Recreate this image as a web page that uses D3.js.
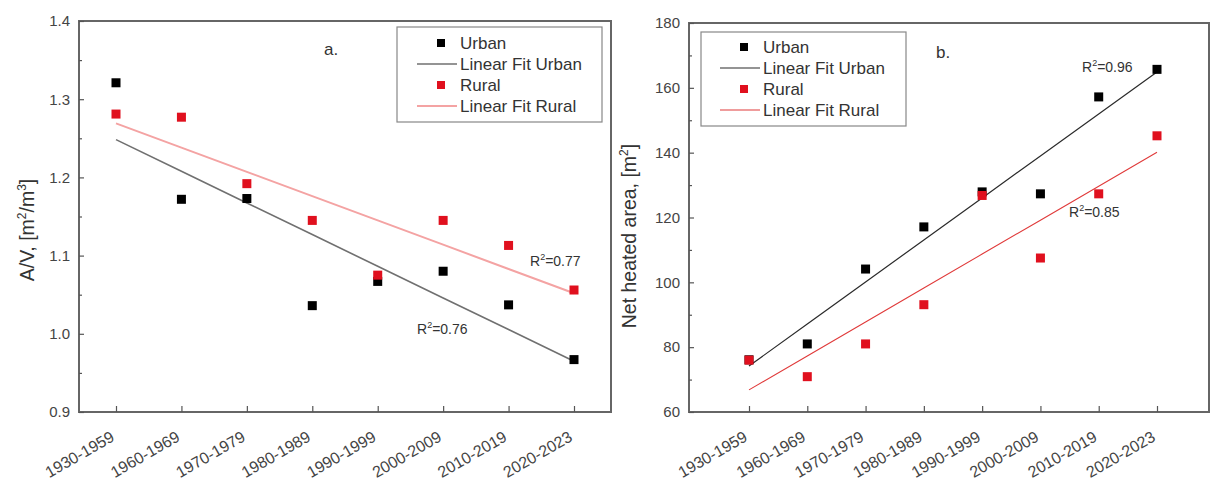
<!DOCTYPE html>
<html><head><meta charset="utf-8">
<script src="https://cdn.jsdelivr.net/npm/d3@7"></script>
<style>
html,body{margin:0;padding:0;background:#fff;}
svg{display:block;font-family:"Liberation Sans",Arial,sans-serif;}
</style></head>
<body>
<svg id="chart" width="1211" height="481"></svg>
<script>
const categories = ["1930-1959","1960-1969","1970-1979","1980-1989","1990-1999","2000-2009","2010-2019","2020-2023"];
const urbanAV = [1.321,1.172,1.173,1.036,1.067,1.080,1.037,0.967];
const ruralAV = [1.281,1.277,1.192,1.145,1.075,1.145,1.113,1.056];
const urbanArea = [76.1,81.0,104.1,117.1,127.9,127.3,157.2,165.7];
const ruralArea = [76.0,70.9,81.0,93.1,126.8,107.5,127.3,145.2];
const avTicks = [0.9,1.0,1.1,1.2,1.3,1.4];
const areaTicks = [60,80,100,120,140,160,180];
const legendLabels = ["Urban","Linear Fit Urban","Rural","Linear Fit Rural"];

const svg = d3.select("#chart");
const FONT = "Liberation Sans, Arial, sans-serif";

function fit(vals){
  const xs = vals.map((_,i)=>i);
  const mx = d3.mean(xs), my = d3.mean(vals);
  let sxy=0,sxx=0;
  xs.forEach((x,i)=>{sxy+=(x-mx)*(vals[i]-my);sxx+=(x-mx)*(x-mx);});
  const b = sxy/sxx, a = my-b*mx;
  return xs.map(x=>a+b*x);
}

function panel(cfg){
  const g = svg.append("g");
  const x = d3.scaleLinear().domain([0,7]).range([cfg.x0,cfg.x1]);
  const y = d3.scaleLinear().domain(cfg.ydom).range([cfg.bottom,cfg.top]);
  const minor = d3.range(cfg.ydom[0]+cfg.minorStep, cfg.ydom[1], cfg.minorStep*2);

  // frame
  g.append("rect").attr("x",cfg.left).attr("y",cfg.top).attr("width",cfg.right-cfg.left).attr("height",cfg.bottom-cfg.top)
    .attr("fill","none").attr("stroke","#666").attr("stroke-width",2);

  // y axis
  const yAxis = d3.axisLeft(y).tickValues(cfg.yticks).tickSize(-5).tickPadding(9).tickFormat(cfg.fmt);
  const ya = g.append("g").attr("transform",`translate(${cfg.left},0)`).call(yAxis);
  ya.select(".domain").remove();
  ya.selectAll("line").attr("stroke","#555").attr("stroke-width",1.2);
  ya.selectAll("text").attr("font-size",15).attr("fill","#444").attr("font-family",FONT);
  const ym = d3.axisLeft(y).tickValues(minor).tickSize(-3).tickFormat("");
  const yma = g.append("g").attr("transform",`translate(${cfg.left},0)`).call(ym);
  yma.select(".domain").remove();
  yma.selectAll("line").attr("stroke","#555").attr("stroke-width",1.2);

  // x axis
  const xAxis = d3.axisBottom(x).tickValues(d3.range(categories.length)).tickSize(-6).tickFormat(i=>categories[i]).tickPadding(0);
  const xa = g.append("g").attr("transform",`translate(0,${cfg.bottom})`).call(xAxis);
  xa.select(".domain").remove();
  xa.selectAll("line").attr("stroke","#555").attr("stroke-width",1.2);
  xa.selectAll("text").attr("font-size",16).attr("fill","#444").attr("font-family",FONT)
    .attr("text-anchor","end").attr("dy",null).attr("y",null)
    .attr("transform","translate(-1,28) rotate(-30)");

  // y title
  const t = g.append("text").attr("transform",`translate(${cfg.titleX},${cfg.titleY}) rotate(-90)`)
    .attr("text-anchor","middle").attr("font-size",19.5).attr("fill","#333");
  cfg.title(t);

  // fits
  const line = d3.line().x((d,i)=>x(i)).y(d=>y(d));
  g.append("path").datum(fit(cfg.urban)).attr("d",line).attr("fill","none").attr("stroke",cfg.urbanFitColor).attr("stroke-width",cfg.urbanFitW);
  g.append("path").datum(fit(cfg.rural)).attr("d",line).attr("fill","none").attr("stroke",cfg.ruralFitColor).attr("stroke-width",cfg.ruralFitW);

  const ms = 9;
  const drawPts = (vals,color)=>g.append("g").selectAll("rect").data(vals).join("rect")
    .attr("x",(d,i)=>x(i)-ms/2).attr("y",d=>y(d)-ms/2).attr("width",ms).attr("height",ms).attr("fill",color);
  drawPts(cfg.urban,"#000"); drawPts(cfg.rural,"#e0101e");

  // panel label
  g.append("text").attr("x",cfg.labX).attr("y",cfg.labY).attr("font-size",17).attr("fill","#333").text(cfg.label);

  // R2 labels
  cfg.r2.forEach(r=>{
    const tt = g.append("text").attr("x",r[0]).attr("y",r[1]).attr("font-size",14).attr("fill","#333");
    tt.append("tspan").text("R");
    tt.append("tspan").attr("font-size",9).attr("dy",-6).text("2");
    tt.append("tspan").attr("dy",6).text("=" + r[2]);
  });

  // legend
  const L = cfg.legend;
  g.append("rect").attr("x",L.x).attr("y",L.y).attr("width",L.w).attr("height",L.h).attr("fill","#fff")
    .attr("stroke","#888").attr("stroke-width",1.2);
  const rows = [
    {type:"pt",color:"#000"},{type:"ln",color:cfg.urbanFitColor,w:cfg.urbanFitW},
    {type:"pt",color:"#e0101e"},{type:"ln",color:cfg.ruralFitColor,w:cfg.ruralFitW}];
  rows.forEach((r,i)=>{
    const cy = L.y+L.rowY0+i*L.rowH;
    if(r.type==="pt") g.append("rect").attr("x",L.symX).attr("y",cy-4).attr("width",8).attr("height",8).attr("fill",r.color);
    else g.append("line").attr("x1",L.symX-20).attr("x2",L.symX+20).attr("y1",cy).attr("y2",cy).attr("stroke",r.color).attr("stroke-width",r.w);
    g.append("text").attr("x",L.symX+23).attr("y",cy+6).attr("font-size",17).attr("fill","#333").text(legendLabels[i]);
  });
}

panel({
  left:79,right:611,top:21,bottom:412,x0:116,x1:574,ydom:[0.9,1.4],yticks:avTicks,minorStep:0.05,
  fmt:d3.format(".1f"),titleX:34,titleY:230,
  title:t=>{t.append("tspan").text("A/V, [m");t.append("tspan").attr("font-size",12).attr("dy",-8).text("2");
    t.append("tspan").attr("dy",8).text("/m");t.append("tspan").attr("font-size",12).attr("dy",-8).text("3");
    t.append("tspan").attr("dy",8).text("]");},
  urban:urbanAV,rural:ruralAV,urbanFitColor:"#707070",urbanFitW:1.6,ruralFitColor:"#f4a3a3",ruralFitW:2,
  label:"a.",labX:324,labY:55,
  r2:[[530,266,"0.77"],[417,334,"0.76"]],
  legend:{x:397,y:27,w:205,h:95,symX:437,rowY0:16,rowH:21}
});
panel({
  left:689,right:1209,top:23,bottom:412,x0:749,x1:1157,ydom:[60,180],yticks:areaTicks,minorStep:10,
  fmt:d3.format("d"),titleX:636,titleY:236,
  title:t=>{t.append("tspan").text("Net heated area, [m");t.append("tspan").attr("font-size",12).attr("dy",-8).text("2");
    t.append("tspan").attr("dy",8).text("]");},
  urban:urbanArea,rural:ruralArea,urbanFitColor:"#2a2a2a",urbanFitW:1.2,ruralFitColor:"#e03a3a",ruralFitW:1.1,
  label:"b.",labX:936,labY:58,
  r2:[[1082,72,"0.96"],[1069,217,"0.85"]],
  legend:{x:701,y:32,w:205,h:94,symX:740,rowY0:15,rowH:21}
});
</script>
</body></html>
